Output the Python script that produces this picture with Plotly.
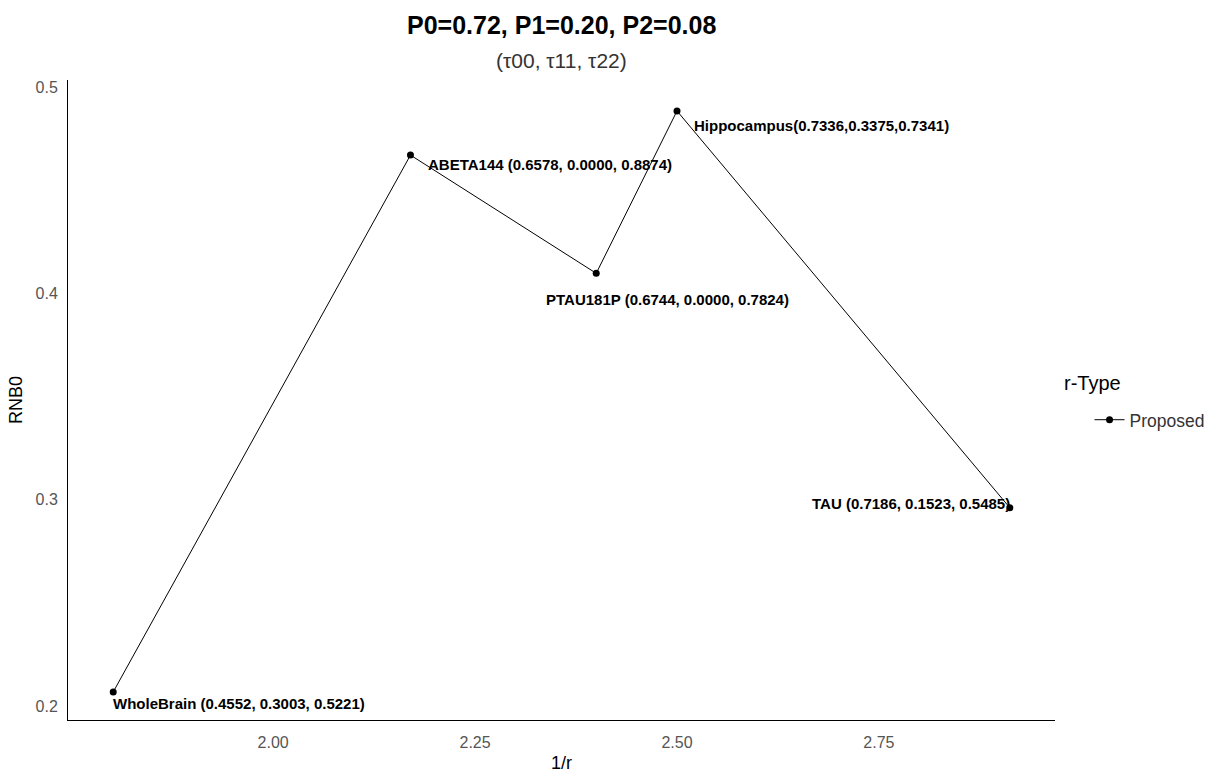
import plotly.graph_objects as go

# Biomarker series: inverse r on x, RNB0 on y
markers = ["WholeBrain", "ABETA144", "PTAU181P", "Hippocampus", "TAU"]
inv_r = [1.802, 2.170, 2.400, 2.500, 2.912]
rnb0 = [0.2068, 0.4670, 0.4097, 0.4884, 0.2961]
labels = [
    "WholeBrain (0.4552, 0.3003, 0.5221)",
    "ABETA144 (0.6578, 0.0000, 0.8874)",
    "PTAU181P (0.6744, 0.0000, 0.7824)",
    "Hippocampus(0.7336,0.3375,0.7341)",
    "TAU (0.7186, 0.1523, 0.5485)",
]
x_ticks = [2.00, 2.25, 2.50, 2.75]
y_ticks = [0.2, 0.3, 0.4, 0.5]

# label placement: (xanchor, yanchor, xshift, yshift)
placement = [
    ("left", "middle", -2, -12),
    ("left", "middle", 16, -9),
    ("left", "middle", -52, -26),
    ("left", "middle", 15, -15),
    ("right", "middle", 2, 4),
]

FONT = "Liberation Sans, Arial"

fig = go.Figure()
fig.add_trace(go.Scatter(
    x=inv_r, y=rnb0, mode="lines+markers", name="Proposed",
    line=dict(color="black", width=1),
    marker=dict(color="black", size=7),
))

for xv, yv, txt, (xa, ya, xs, ys) in zip(inv_r, rnb0, labels, placement):
    fig.add_annotation(
        x=xv, y=yv, text="<b>" + txt + "</b>", showarrow=False,
        xanchor=xa, yanchor=ya, xshift=xs, yshift=ys,
        font=dict(family=FONT, size=15, color="black"),
    )

fig.add_annotation(
    x=0.5, y=1, xref="paper", yref="paper", yanchor="middle", yshift=55,
    text="<b>P0=0.72, P1=0.20, P2=0.08</b>", showarrow=False,
    font=dict(family=FONT, size=25, color="black"),
)
fig.add_annotation(
    x=0.5, y=1, xref="paper", yref="paper", yanchor="middle", yshift=20,
    text="(τ00, τ11, τ22)", showarrow=False,
    font=dict(family=FONT, size=21, color="#333333"),
)

# legend heading drawn separately so the entry sits indented below it
fig.add_annotation(
    x=1.007, y=0.527, xref="paper", yref="paper", xanchor="left", yanchor="middle",
    text="r-Type", showarrow=False,
    font=dict(family=FONT, size=20, color="black"),
)

fig.update_layout(
    width=1209, height=774,
    margin=dict(l=68, r=154, t=80, b=54, autoexpand=False),
    plot_bgcolor="white", paper_bgcolor="white",
    font=dict(family=FONT, color="#333333"),
    showlegend=True,
    legend=dict(
        x=1.035, y=0.469, xanchor="left", yanchor="middle",
        font=dict(size=17.5, color="#333333"),
    ),
    xaxis=dict(
        title=dict(text="1/r", font=dict(size=18, color="black"), standoff=6),
        range=[1.746, 2.968], tickvals=x_ticks,
        ticktext=[f"{v:.2f}" for v in x_ticks],
        showgrid=False, zeroline=False, showline=True, automargin=False,
        linecolor="black", linewidth=1, ticks="", ticklen=0,
        ticklabelstandoff=8,
        tickfont=dict(size=16, color="#555555"),
    ),
    yaxis=dict(
        title=dict(text="RNB0", font=dict(size=18, color="black"), standoff=8),
        range=[0.1932, 0.5034], tickvals=y_ticks,
        ticktext=[f"{v:.1f}" for v in y_ticks],
        showgrid=False, zeroline=False, showline=True, automargin=False,
        linecolor="black", linewidth=1, ticks="", ticklen=0,
        ticklabelstandoff=6,
        tickfont=dict(size=16, color="#555555"),
    ),
)

fig.write_html("out.html")
